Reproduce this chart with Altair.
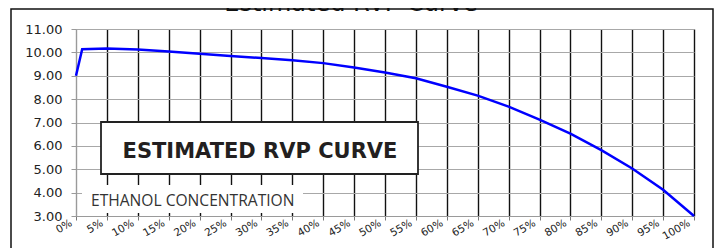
import altair as alt
import pandas as pd

ethanol_pct = [0, 1, 5, 10, 15, 20, 25, 30, 35, 40, 45, 50, 55, 60, 65, 70, 75, 80, 85, 90, 95, 100]
rvp = [9.00, 10.13, 10.17, 10.12, 10.04, 9.94, 9.84, 9.76, 9.66, 9.54, 9.35, 9.14, 8.89, 8.53, 8.15,
       7.68, 7.12, 6.52, 5.82, 5.03, 4.12, 3.00]
x_ticks = list(range(0, 101, 5))
y_ticks = [3, 4, 5, 6, 7, 8, 9, 10, 11]
title_text = "Estimated RVP Curve"
box_text = "ESTIMATED RVP CURVE"
axis_text = "ETHANOL CONCENTRATION"

df = pd.DataFrame({"pct": ethanol_pct, "rvp": rvp})
one = pd.DataFrame({"k": [0]})

xs = alt.X("pct:Q", scale=alt.Scale(domain=[0, 100], nice=False),
           axis=alt.Axis(values=x_ticks, labelExpr="datum.value + '%'", title=None,
                         grid=True,
                         gridColor={"condition": {"test": "datum.value === 0", "value": "#9a9a9a"},
                                    "value": "#111111"},
                         gridWidth=1.4, domainColor="#9a9a9a", tickColor="#777777", tickSize=4,
                         labelAngle=330, labelAlign="right", labelBaseline="middle",
                         labelPadding=2, labelOffset=-5, labelFont="DejaVu Sans", labelFontSize=10.5,
                         labelColor="#222222", labelOverlap=False, labelFlush=False))
ys = alt.Y("rvp:Q", scale=alt.Scale(domain=[3, 11], nice=False, zero=False),
           axis=alt.Axis(values=y_ticks, format=".2f", title=None, grid=True,
                         gridColor="#a8a8a8", gridWidth=1, domainColor="#9a9a9a",
                         tickColor="#9a9a9a", tickSize=5, labelPadding=9,
                         labelFont="DejaVu Sans", labelFontSize=13, labelColor="#222222"))

line = alt.Chart(df).mark_line(color="#0000ff", strokeWidth=2.5).encode(x=xs, y=ys)

frame = alt.Chart(one).mark_rect(fill=None, stroke="#111111", strokeWidth=1.5).encode(
    x=alt.value(-65), x2=alt.value(637), y=alt.value(-20), y2=alt.value(260))

title = alt.Chart(one).mark_text(text=title_text, font="DejaVu Sans", fontSize=24,
                                 align="center", baseline="alphabetic", color="#111111").encode(
    x=alt.value(275), y=alt.value(-18))

eth_bg = alt.Chart(one).mark_rect(fill="white", stroke=None).encode(
    x=alt.value(6), x2=alt.value(227), y=alt.value(156), y2=alt.value(184))
eth_text = alt.Chart(one).mark_text(text=axis_text, font="Open Sans", fontSize=15.6,
                                    align="left", baseline="alphabetic", color="#333333").encode(
    x=alt.value(15), y=alt.value(177))

box = alt.Chart(one).mark_rect(fill="white", stroke="#222222", strokeWidth=1.8).encode(
    x=alt.value(25), x2=alt.value(342), y=alt.value(93), y2=alt.value(145))
box_txt = alt.Chart(one).mark_text(text=box_text, font="DejaVu Sans", fontSize=21, fontWeight="bold",
                                   align="center", baseline="alphabetic", color="#231f20").encode(
    x=alt.value(184), y=alt.value(129))

chart = alt.layer(line, eth_bg, eth_text, box, box_txt, frame, title).properties(
    width=618, height=187,
    padding={"left": 68, "top": 21, "right": 20, "bottom": 32},
    autosize=alt.AutoSizeParams(type="none"),
).configure_view(stroke=None).configure(background="white")

chart.save("out.html", embed_options={"renderer": "svg", "actions": False})
